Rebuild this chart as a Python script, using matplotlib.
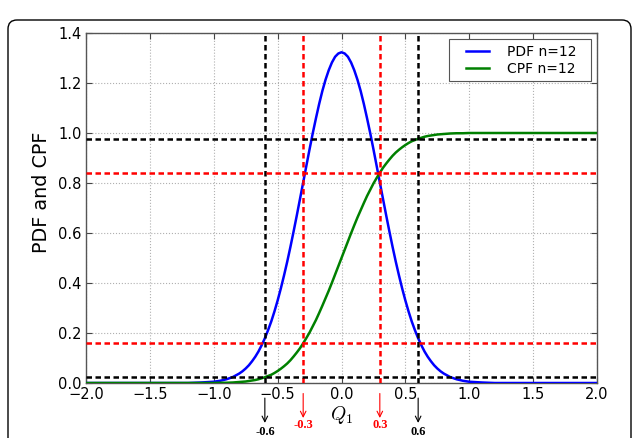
import numpy as np
import matplotlib
matplotlib.use("Agg")
import matplotlib.pyplot as plt
from matplotlib.patches import FancyBboxPatch
from matplotlib.transforms import IdentityTransform
from matplotlib.legend_handler import HandlerLine2D

plt.rcParams["mathtext.fontset"] = "cm"

# sample positions of the order statistic Q1
q = [-2.0, -1.5, -1.2, -1.1, -1.0, -0.95, -0.9, -0.85, -0.8,
     -0.775, -0.75, -0.725, -0.7, -0.675, -0.65, -0.625, -0.6, -0.575, -0.55, -0.525,
     -0.5, -0.475, -0.45, -0.425, -0.4, -0.375, -0.35, -0.325, -0.3, -0.275, -0.25, -0.225,
     -0.2, -0.175, -0.15, -0.125, -0.1, -0.075, -0.05, -0.025,
     0.0, 0.025, 0.05, 0.075, 0.1, 0.125, 0.15, 0.175, 0.2, 0.225, 0.25, 0.275,
     0.3, 0.325, 0.35, 0.375, 0.4, 0.425, 0.45, 0.475, 0.5, 0.525, 0.55, 0.575,
     0.6, 0.625, 0.65, 0.675, 0.7, 0.725, 0.75, 0.775,
     0.8, 0.85, 0.9, 0.95, 1.0, 1.1, 1.2, 1.5, 2.0]

# probability density, n = 12
pdf_n12 = [0.0, 0.0, 0.000, 0.002, 0.005, 0.009, 0.015, 0.024, 0.038,
           0.047, 0.058, 0.071, 0.087, 0.105, 0.126, 0.151, 0.179, 0.211, 0.246, 0.286,
           0.330, 0.378, 0.430, 0.485, 0.544, 0.606, 0.670, 0.736, 0.802, 0.869, 0.935, 0.999,
           1.059, 1.116, 1.168, 1.213, 1.251, 1.282, 1.305, 1.318,
           1.323, 1.318, 1.305, 1.282, 1.251, 1.213, 1.168, 1.116, 1.059, 0.999, 0.935, 0.869,
           0.802, 0.736, 0.670, 0.606, 0.544, 0.485, 0.430, 0.378, 0.330, 0.286, 0.246, 0.211,
           0.179, 0.151, 0.126, 0.105, 0.087, 0.071, 0.058, 0.047,
           0.038, 0.024, 0.015, 0.009, 0.005, 0.002, 0.000, 0.0, 0.0]

# cumulative probability, n = 12
cpf_n12 = [0.0, 0.0, 0.000, 0.000, 0.000, 0.001, 0.001, 0.002, 0.004,
           0.005, 0.006, 0.008, 0.010, 0.012, 0.015, 0.019, 0.023, 0.028, 0.033, 0.040,
           0.048, 0.057, 0.067, 0.078, 0.091, 0.106, 0.122, 0.139, 0.159, 0.180, 0.202, 0.227,
           0.252, 0.280, 0.309, 0.339, 0.369, 0.401, 0.434, 0.467,
           0.500, 0.533, 0.566, 0.599, 0.631, 0.662, 0.691, 0.720, 0.748, 0.773, 0.798, 0.820,
           0.841, 0.861, 0.878, 0.894, 0.909, 0.922, 0.933, 0.943, 0.952, 0.960, 0.967, 0.972,
           0.977, 0.981, 0.985, 0.988, 0.990, 0.992, 0.994, 0.995,
           0.996, 0.998, 0.999, 0.999, 1.000, 1.000, 1.000, 1.0, 1.0]

# one- and two-sigma bounds
sigma1_q = [-0.3, 0.3]
sigma1_p = [0.16, 0.84]
sigma2_q = [-0.6, 0.6]
sigma2_p = [0.023, 0.977]
bound_labels = {-0.6: "-0.6", -0.3: "-0.3", 0.3: "0.3", 0.6: "0.6"}

x_ticks = [-2.0, -1.5, -1.0, -0.5, 0.0, 0.5, 1.0, 1.5, 2.0]
y_ticks = [0.0, 0.2, 0.4, 0.6, 0.8, 1.0, 1.2, 1.4]

fig = plt.figure(figsize=(6.33, 4.38), dpi=100)
ax = fig.add_axes([86 / 633, 1 - 383 / 438, 511 / 633, 350 / 438])

ax.plot(q, pdf_n12, color="#0000ff", lw=1.8, label="PDF n=12  ", zorder=3)
ax.plot(q, cpf_n12, color="#008000", lw=1.8, label="CPF n=12  ", zorder=3)

dash = (2.2, 1.4)
for v in sigma2_q:
    ax.axvline(v, color="black", lw=1.8, dashes=dash, zorder=4)
for v in sigma1_q:
    ax.axvline(v, color="#ff0000", lw=1.8, dashes=dash, zorder=4)
for v in sigma2_p:
    ax.axhline(v, color="black", lw=1.8, dashes=dash, zorder=4)
for v in sigma1_p:
    ax.axhline(v, color="#ff0000", lw=1.8, dashes=dash, zorder=4)

ax.set_xlim(-2.0, 2.0)
ax.set_ylim(0.0, 1.4)
ax.set_xticks(x_ticks)
ax.set_yticks(y_ticks)
ax.set_xticklabels([f"{t:.1f}".replace("-", "\u2212") for t in x_ticks])
ax.set_yticklabels([f"{t:.1f}" for t in y_ticks])
ax.tick_params(direction="in", top=True, right=True, length=4, width=0.8,
               labelsize=10.5, color="#444444", pad=3)
ax.grid(True, color="#b0b0b0", linestyle=":", lw=0.8)
for s in ax.spines.values():
    s.set_color("#555555")
    s.set_linewidth(1.0)

ax.set_ylabel("PDF and CPF", fontsize=13.8)
ax.yaxis.set_label_coords(-0.068, 0.546)
ax.set_xlabel(r"$Q_1$", fontsize=14, labelpad=1)

leg = ax.legend(loc="upper right", fancybox=False, fontsize=10, handlelength=2.47,
                handletextpad=1.3, borderpad=0.4, labelspacing=0.2,
                borderaxespad=0.45, framealpha=1,
                handler_map={plt.Line2D: HandlerLine2D(xpad=0.82)})
leg.get_frame().set_edgecolor("#555555")
leg.get_frame().set_linewidth(0.8)

# arrows marking the bound positions under the axis
trans = ax.get_xaxis_transform()
for v, lab in bound_labels.items():
    col = "black" if abs(v) in sigma2_q else "#ff0000"
    if abs(v) == 0.6:
        y0, y1, yt = -0.043, -0.114, -0.14
    else:
        y0, y1, yt = -0.03, -0.10, -0.12
    ax.annotate("", xy=(v, y1), xytext=(v, y0), xycoords=trans, textcoords=trans,
                arrowprops=dict(arrowstyle="->", color=col, lw=0.8,
                                shrinkA=0, shrinkB=0), annotation_clip=False)
    ax.text(v, yt, lab, transform=trans, ha="center", va="center", color=col,
            fontsize=9, fontweight="bold", family="Liberation Serif")

# rounded outer frame
frame = FancyBboxPatch((8, -40), 623, 458, boxstyle="round,pad=0,rounding_size=9",
                       transform=IdentityTransform(), fill=False, edgecolor="black",
                       lw=1.0)
fig.patches.append(frame)

fig.savefig("out.png", dpi=100)
